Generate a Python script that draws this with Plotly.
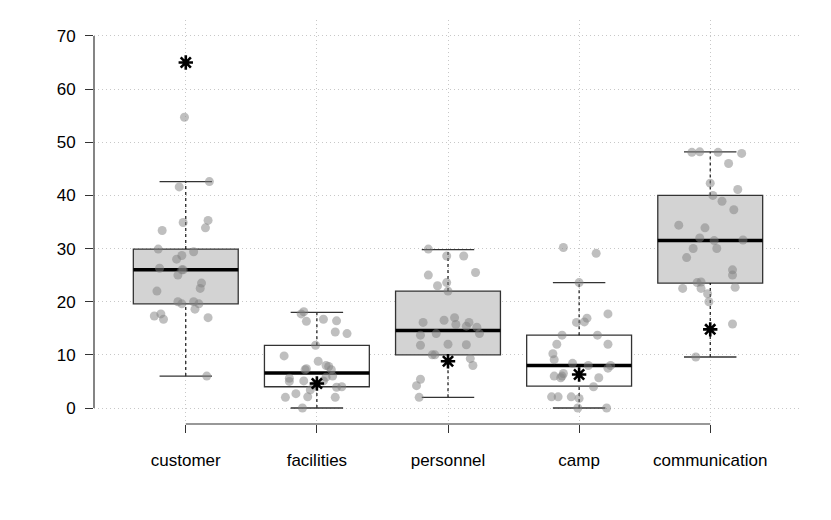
import plotly.graph_objects as go

categories = ["customer", "facilities", "personnel", "camp", "communication"]

# box summary
q1 = [19.6, 4.0, 10.0, 4.1, 23.5]
med = [26.0, 6.6, 14.6, 8.0, 31.5]
q3 = [29.9, 11.8, 22.0, 13.7, 40.0]
lo = [6.0, 0.0, 2.0, 0.0, 9.6]
hi = [42.6, 18.0, 29.8, 23.6, 48.2]
box_fill = ["#d3d3d3", "white", "#d3d3d3", "white", "#d3d3d3"]

# asterisk marks
star = [65.0, 4.6, 8.8, 6.3, 14.8]

# jittered raw points: values and horizontal jitter (category units)
customer_v = [54.7, 41.6, 42.6, 34.9, 35.3, 33.9, 33.4, 29.9, 29.4, 28.7, 28.0, 26.3, 26.0, 26.0,
              25.0, 23.5, 22.5, 22.0, 20.0, 19.6, 20.0, 19.6, 18.6, 17.3, 17.7, 16.7, 17.0, 6.0]
customer_j = [-0.01, -0.05, 0.18, -0.02, 0.17, 0.15, -0.18, -0.21, 0.06, -0.03, -0.07, -0.20, -0.03, -0.02,
              -0.06, 0.12, 0.11, -0.22, -0.06, -0.03, 0.06, 0.10, 0.07, -0.24, -0.19, -0.17, 0.17, 0.16]

facilities_v = [17.7, 18.1, 16.3, 16.7, 16.4, 14.3, 14.0, 11.8, 9.8, 8.8, 8.0, 7.8, 7.4, 7.2, 7.2,
                6.0, 5.8, 5.6, 5.0, 5.1, 5.1, 4.3, 3.4, 3.9, 4.0, 2.7, 2.1, 2.0, 2.0, 0.0]
facilities_j = [-0.12, -0.10, -0.08, 0.05, 0.15, 0.14, 0.23, -0.01, -0.25, 0.01, 0.07, 0.09, -0.08, -0.09, 0.11,
                0.12, 0.07, -0.21, -0.21, -0.10, 0.05, -0.02, -0.05, 0.15, 0.19, -0.16, -0.07, -0.24, 0.14, -0.11]

personnel_v = [29.9, 28.6, 28.6, 25.5, 25.0, 23.0, 23.6, 22.0, 16.1, 16.5, 17.0, 15.7, 15.4, 16.1,
               15.2, 14.0, 13.7, 14.0, 11.8, 12.0, 11.9, 10.0, 10.0, 9.3, 8.0, 5.4, 4.2, 2.0]
personnel_j = [-0.15, -0.01, 0.12, 0.21, -0.15, -0.08, -0.01, 0.00, -0.19, -0.03, 0.05, 0.06, 0.14, 0.16,
               0.22, 0.24, -0.21, -0.09, -0.21, 0.00, 0.14, -0.12, -0.10, 0.17, 0.19, -0.21, -0.24, -0.22]

camp_v = [30.2, 29.1, 23.6, 17.7, 16.9, 16.2, 16.1, 13.7, 13.7, 12.0, 12.0, 10.2, 9.1, 8.4, 8.0,
          8.0, 7.5, 6.5, 6.0, 6.0, 5.7, 5.7, 4.0, 2.1, 2.1, 2.1, 1.8, 0.0, 0.0]
camp_j = [-0.12, 0.13, 0.00, 0.22, 0.06, 0.04, -0.02, -0.13, 0.14, -0.17, 0.22, -0.20, -0.19, -0.05, 0.07,
          0.24, 0.22, -0.12, -0.13, -0.19, -0.14, 0.15, 0.11, -0.21, -0.16, -0.06, 0.00, -0.01, 0.21]

communication_v = [48.1, 48.2, 48.1, 47.9, 46.0, 42.3, 41.1, 40.0, 38.9, 37.3, 34.4, 33.9, 32.0, 31.5, 31.6,
                   30.0, 30.0, 28.3, 26.0, 25.0, 23.6, 23.7, 22.5, 22.5, 22.7, 21.5, 20.0, 15.8, 9.6]
communication_j = [-0.14, -0.08, 0.06, 0.24, 0.14, 0.00, 0.21, 0.02, 0.09, 0.18, -0.24, -0.04, -0.08, 0.03, 0.25,
                   -0.13, 0.05, -0.18, 0.17, 0.17, -0.10, -0.07, -0.21, -0.07, 0.19, -0.02, -0.01, 0.17, -0.11]

points_v = [customer_v, facilities_v, personnel_v, camp_v, communication_v]
points_j = [customer_j, facilities_j, personnel_j, camp_j, communication_j]

ink = "#333333"
fig = go.Figure()

# boxes, whiskers, caps, medians
for i in range(len(categories)):
    x = i + 1
    fig.add_shape(type="rect", x0=x - 0.4, x1=x + 0.4, y0=q1[i], y1=q3[i],
                  fillcolor=box_fill[i], line=dict(color=ink, width=1.3), layer="between")
    fig.add_shape(type="line", x0=x, x1=x, y0=q3[i], y1=hi[i],
                  line=dict(color="black", width=1.1, dash="3px,3px"), layer="between")
    fig.add_shape(type="line", x0=x, x1=x, y0=lo[i], y1=q1[i],
                  line=dict(color="black", width=1.1, dash="3px,3px"), layer="between")
    fig.add_shape(type="line", x0=x - 0.2, x1=x + 0.2, y0=hi[i], y1=hi[i],
                  line=dict(color=ink, width=1.3), layer="between")
    fig.add_shape(type="line", x0=x - 0.2, x1=x + 0.2, y0=lo[i], y1=lo[i],
                  line=dict(color=ink, width=1.3), layer="between")
    fig.add_shape(type="line", x0=x - 0.4, x1=x + 0.4, y0=med[i], y1=med[i],
                  line=dict(color="black", width=3.5), layer="between")

# jittered points
for i in range(len(categories)):
    fig.add_trace(go.Scatter(
        x=[i + 1 + j for j in points_j[i]],
        y=points_v[i],
        mode="markers",
        marker=dict(size=9, color="rgba(128,128,128,0.5)", line=dict(width=0)),
        showlegend=False,
        hoverinfo="y"
    ))

# asterisks
fig.add_trace(go.Scatter(
    x=list(range(1, len(categories) + 1)),
    y=star,
    mode="markers",
    marker=dict(symbol="asterisk-open", size=12, color="black", line=dict(color="black", width=2.6)),
    showlegend=False,
    hoverinfo="y"
))

# R-style axis lines (only spanning the ticks)
fig.add_shape(type="line", xref="paper", x0=0, x1=0, yref="y", y0=0, y1=70,
              line=dict(color=ink, width=1.2))
fig.add_shape(type="line", xref="x", x0=1, x1=len(categories), yref="paper", y0=0, y1=0,
              line=dict(color=ink, width=1.2))

fig.update_layout(
    width=831, height=520,
    plot_bgcolor="white", paper_bgcolor="white",
    margin=dict(l=94, r=29, t=20, b=96),
    font=dict(family="Liberation Sans, Arial, sans-serif", size=17, color="black"),
    showlegend=False,
)
fig.update_xaxes(
    range=[0.3, 5.7], tickvals=list(range(1, len(categories) + 1)), ticktext=categories,
    showline=False, zeroline=False, ticks="outside", ticklen=8, tickcolor=ink, tickwidth=1.2,
    showgrid=True, gridcolor="#c8c8c8", griddash="1px,3px", gridwidth=1,
    ticklabelstandoff=13,
)
fig.update_yaxes(
    range=[-3.01, 73.0], tickvals=[0, 10, 20, 30, 40, 50, 60, 70],
    showline=False, zeroline=False, ticks="outside", ticklen=8, tickcolor=ink, tickwidth=1.2,
    showgrid=True, gridcolor="#c8c8c8", griddash="1px,3px", gridwidth=1,
    ticklabelstandoff=6,
)

fig.write_html("out.html", config={"displayModeBar": False},
               post_script="document.body.style.margin='0';")
